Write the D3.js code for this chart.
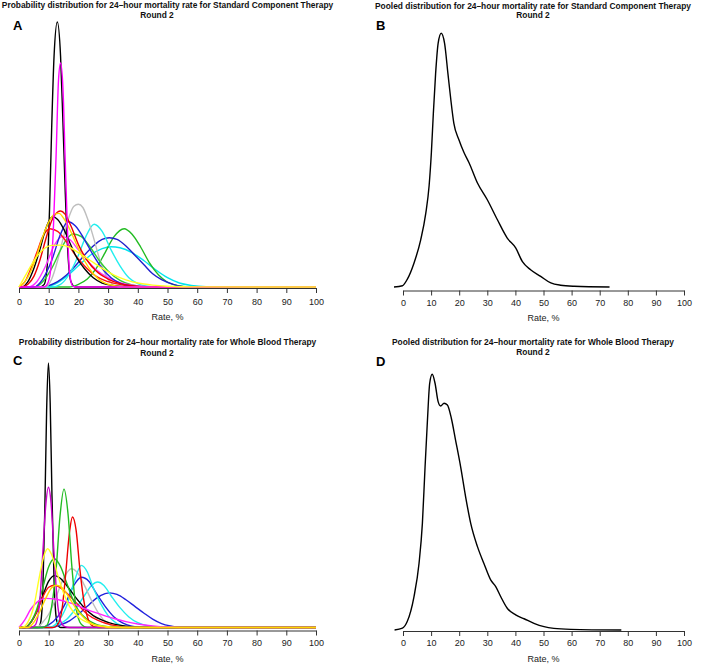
<!DOCTYPE html>
<html>
<head>
<meta charset="utf-8">
<script src="https://cdn.jsdelivr.net/npm/d3@7"></script>
<style>
  html, body { margin: 0; padding: 0; background: #fff; }
  svg { display: block; font-family: "Liberation Sans", Arial, Helvetica, sans-serif; }
</style>
</head>
<body>
<svg id="chart" width="709" height="664"></svg>
<script>
// ---------------- DATA (rate %, relative density) ----------------
const tickValues = [0, 10, 20, 30, 40, 50, 60, 70, 80, 90, 100];
const axisLabel = "Rate, %";
const panelLetters = ["A", "B", "C", "D"];
const titleLines = [
  ["Probability distribution for 24\u2013hour mortality rate for Standard Component Therapy", "Round 2"],
  ["Pooled distribution for 24\u2013hour mortality rate for Standard Component Therapy", "Round 2"],
  ["Probability distribution for 24\u2013hour mortality rate for Whole Blood Therapy", "Round 2"],
  ["Pooled distribution for 24\u2013hour mortality rate for Whole Blood Therapy", "Round 2"]
];

// Panel A: individual expert distributions, Standard Component Therapy
const scBlackNarrow = [[0,0],[7,0],[8.5,0.01],[9.5,0.08],[10.3,0.3],[11,0.6],[11.8,0.87],[12.9,1.0],[14,0.87],[14.8,0.62],[15.6,0.35],[16.5,0.12],[17.5,0.02],[19,0],[100,0]];
const scCyanBroad = [[0,0],[8,0],[12,0.01],[16,0.04],[20,0.08],[24,0.12],[28,0.145],[31,0.152],[34,0.148],[38,0.13],[42,0.1],[46,0.065],[50,0.035],[54,0.015],[58,0.006],[63,0.001],[68,0],[100,0]];
const scGreenRight = [[0,0],[17,0],[20,0.01],[23,0.03],[26,0.07],[29,0.13],[32,0.19],[35.4,0.22],[38,0.2],[41,0.15],[44,0.09],[47,0.045],[50,0.018],[54,0.004],[58,0],[100,0]];
const scBlueRight = [[0,0],[7,0],[10,0.005],[13,0.02],[16,0.045],[19,0.08],[22,0.12],[25,0.155],[28,0.18],[30.4,0.186],[33,0.18],[36,0.155],[39,0.12],[42,0.085],[45,0.05],[48,0.028],[52,0.01],[57,0],[100,0]];
const scCyanMid = [[0,0],[11,0],[14,0.01],[17,0.05],[20,0.12],[22.5,0.19],[25.3,0.237],[28,0.21],[31,0.14],[34,0.08],[37,0.035],[40,0.013],[44,0.002],[47,0],[100,0]];
const scGray = [[0,0],[9,0],[11,0.03],[13,0.1],[15,0.19],[17,0.27],[18.5,0.305],[20,0.312],[21.5,0.3],[23,0.26],[25,0.19],[27,0.11],[29,0.05],[31,0.015],[34,0],[100,0]];
const scGreenMid = [[0,0],[5,0],[8,0.02],[11,0.07],[14,0.14],[16,0.18],[18.3,0.2],[21,0.19],[24,0.15],[27,0.1],[30,0.06],[34,0.025],[38,0.008],[44,0],[100,0]];
const scMagentaBroad = [[0,0],[3,0],[6,0.02],[9,0.08],[12,0.16],[14.5,0.19],[17,0.18],[20,0.14],[23,0.1],[26,0.065],[30,0.035],[34,0.016],[40,0.004],[46,0],[100,0]];
const scRedLow = [[0,0],[2,0.02],[4,0.07],[6,0.13],[8,0.19],[10.4,0.22],[13,0.21],[16,0.17],[19,0.12],[22,0.08],[26,0.04],[30,0.02],[35,0.007],[42,0],[100,0]];
const scBlueMid = [[0,0],[5,0],[8,0.03],[11,0.1],[14,0.2],[16.5,0.246],[19,0.23],[22,0.18],[25,0.12],[28,0.07],[31,0.035],[34,0.015],[38,0.004],[42,0],[100,0]];
const scBlackBroad = [[0,0],[1,0],[3,0.02],[5,0.07],[7,0.14],[9,0.22],[11.3,0.265],[13,0.255],[15,0.22],[17,0.17],[19,0.12],[22,0.07],[25,0.035],[28,0.015],[32,0.005],[38,0],[100,0]];
const scRedHigh = [[0,0],[1,0],[3,0.01],[5,0.04],[7,0.1],[9,0.18],[11,0.25],[13,0.283],[14,0.287],[15.5,0.275],[17.5,0.23],[20,0.16],[23,0.1],[26,0.06],[30,0.03],[34,0.013],[38,0.005],[44,0],[100,0]];
const scYellowHigh = [[0,0],[2,0.02],[4,0.06],[6,0.12],[8,0.19],[10,0.245],[12,0.275],[13.5,0.278],[15,0.26],[17,0.22],[19,0.17],[22,0.1],[25,0.05],[28,0.02],[32,0.005],[36,0],[100,0]];
const scMagentaNarrow = [[0,0],[8.5,0],[9.5,0.01],[10.5,0.05],[11.5,0.2],[12.5,0.5],[13.3,0.78],[14,0.845],[14.8,0.75],[15.5,0.5],[16.3,0.22],[17,0.06],[18,0.005],[19,0],[100,0]];
const scYellowFlat = [[0,0],[2,0.04],[4,0.08],[6,0.115],[8,0.14],[11,0.157],[14,0.158],[17,0.15],[20,0.13],[24,0.1],[28,0.07],[32,0.045],[36,0.027],[40,0.015],[45,0.007],[50,0.003],[60,0.0005],[100,0]];
const scCurves = [scBlackNarrow, scCyanBroad, scGreenRight, scBlueRight, scCyanMid, scGray, scGreenMid, scMagentaBroad, scRedLow, scBlueMid, scBlackBroad, scRedHigh, scYellowHigh, scMagentaNarrow, scYellowFlat];
const scColors = ["#000000", "#00E5EE", "#22BB22", "#2020CC", "#22EEEE", "#BEBEBE", "#33CC33", "#FF33FF", "#FF1111", "#2222DD", "#000000", "#EE0000", "#FFD700", "#FF00FF", "#FFFF22"];

// Panel B: pooled, Standard Component Therapy
const scPooled = [[-3.2,0],[-0.2,0.005],[1.5,0.03],[3.9,0.094],[6.3,0.186],[8.1,0.29],[9.3,0.4],[10.1,0.53],[10.8,0.685],[11.6,0.84],[12.5,0.96],[13.6,1.0],[14.8,0.96],[16.0,0.84],[17.0,0.74],[18.1,0.645],[19.9,0.58],[21.7,0.53],[23.5,0.49],[26.5,0.41],[30.0,0.344],[33.6,0.265],[37.1,0.193],[40.1,0.154],[42.5,0.1],[45.4,0.068],[49.0,0.042],[52.6,0.016],[56.1,0.007],[60.9,0.003],[73.5,0]];

// Panel C: individual expert distributions, Whole Blood Therapy
const wbBlackNarrow = [[0,0],[6.5,0],[7.3,0.02],[8,0.13],[8.7,0.45],[9.3,0.82],[9.9,1.0],[10.5,0.85],[11.1,0.5],[11.8,0.18],[12.5,0.04],[13.3,0.005],[14,0],[100,0]];
const wbBlueRight = [[0,0],[11,0],[14,0.01],[17,0.025],[20,0.05],[23,0.08],[26,0.11],[29,0.128],[30.5,0.131],[33,0.125],[36,0.105],[39,0.08],[42,0.055],[45,0.032],[48,0.015],[51,0.006],[55,0],[100,0]];
const wbCyanRight = [[0,0],[10,0],[13,0.01],[16,0.03],[19,0.07],[22,0.12],[24.5,0.16],[26.5,0.172],[28.5,0.16],[31,0.12],[34,0.075],[37,0.04],[40,0.018],[44,0.005],[48,0],[100,0]];
const wbGray = [[0,0],[6,0],[8,0.02],[10,0.05],[12,0.1],[14,0.16],[16,0.205],[17.6,0.222],[19.5,0.21],[22,0.16],[24.5,0.1],[27,0.05],[29.5,0.018],[32,0.004],[35,0],[100,0]];
const wbBlueMid = [[0,0],[7,0],[10,0.01],[13,0.04],[16,0.1],[18.5,0.16],[21,0.19],[23.5,0.175],[26,0.13],[29,0.08],[32,0.04],[35,0.017],[38,0.005],[42,0],[100,0]];
const wbCyanMid = [[0,0],[10,0],[13,0.02],[16,0.08],[18.5,0.17],[21,0.235],[23,0.21],[25,0.15],[27.5,0.09],[30,0.045],[33,0.015],[36,0.003],[39,0],[100,0]];
const wbBlackBroad = [[0,0],[2,0],[4,0.02],[6,0.06],[8,0.12],[10,0.175],[12,0.196],[14,0.185],[16,0.16],[19,0.115],[22,0.075],[25,0.045],[28,0.028],[32,0.013],[36,0.005],[42,0],[100,0]];
const wbRedLow = [[0,0],[2,0],[4,0.02],[6,0.06],[8,0.115],[10,0.152],[12,0.16],[14,0.15],[17,0.12],[20,0.085],[23,0.05],[27,0.025],[32,0.008],[38,0],[100,0]];
const wbGreenLow = [[0,0],[2,0],[4,0.02],[6,0.07],[8,0.15],[10,0.23],[11.9,0.26],[14,0.23],[16,0.17],[18,0.11],[20,0.065],[23,0.03],[26,0.012],[30,0.003],[35,0],[100,0]];
const wbRedHigh = [[0,0],[11.5,0],[13,0.01],[14.5,0.07],[15.7,0.2],[17,0.36],[18,0.418],[19.2,0.37],[20.5,0.22],[22,0.09],[23.5,0.025],[25,0.004],[26.5,0],[100,0]];
const wbGreenHigh = [[0,0],[8,0],[9.5,0.01],[11,0.08],[12.5,0.22],[13.8,0.42],[15.15,0.523],[16.5,0.43],[17.8,0.23],[19,0.09],[20.5,0.02],[22,0.003],[23,0],[100,0]];
const wbMagentaNarrow = [[0,0],[4,0],[5.5,0.01],[7,0.1],[8,0.28],[9,0.46],[9.9,0.53],[10.8,0.47],[11.8,0.28],[12.8,0.11],[14,0.025],[15.5,0.003],[17,0],[100,0]];
const wbMagentaBroad = [[0,0],[2,0.03],[4,0.07],[6,0.095],[9,0.11],[12,0.108],[15,0.1],[18,0.09],[21,0.077],[24,0.063],[28,0.048],[32,0.034],[36,0.022],[40,0.013],[45,0.006],[50,0.002],[58,0],[100,0]];
const wbYellowHigh = [[0,0],[1,0],[3,0.02],[5,0.08],[7,0.2],[8.5,0.275],[9.65,0.298],[11,0.275],[13,0.2],[15,0.13],[17,0.08],[20,0.04],[24,0.015],[28,0.005],[35,0],[100,0]];
const wbYellowLow = [[0,0],[3,0],[5,0.02],[7,0.06],[9,0.11],[11,0.15],[12.7,0.16],[14.5,0.15],[16.5,0.12],[19,0.075],[22,0.035],[25,0.012],[29,0.002],[32,0],[100,0]];
const wbCurves = [wbBlackNarrow, wbBlueRight, wbCyanRight, wbGray, wbBlueMid, wbCyanMid, wbBlackBroad, wbRedLow, wbGreenLow, wbRedHigh, wbGreenHigh, wbMagentaNarrow, wbMagentaBroad, wbYellowHigh, wbYellowLow];
const wbColors = ["#000000", "#2222DD", "#22EEEE", "#BEBEBE", "#2222DD", "#22EEEE", "#000000", "#FF1111", "#22BB22", "#EE0000", "#22BB22", "#CC00CC", "#FF22FF", "#FFFF22", "#FFD700"];

// Panel D: pooled, Whole Blood Therapy
const wbPooled = [[-3.0,0],[-0.2,0.007],[1.5,0.033],[3.9,0.13],[5.7,0.26],[6.9,0.417],[7.8,0.626],[8.7,0.82],[9.5,0.965],[10.4,1.0],[11.4,0.965],[12.5,0.893],[13.4,0.876],[14.6,0.887],[15.8,0.88],[17.2,0.828],[18.7,0.743],[20.5,0.639],[22.3,0.52],[24.1,0.417],[26.5,0.326],[28.8,0.26],[31.2,0.196],[33.0,0.17],[34.8,0.13],[37.1,0.085],[40.1,0.059],[43.1,0.044],[46.6,0.026],[50.2,0.013],[53.7,0.0065],[59.7,0.0026],[77.7,0]];

// ---------------- LAYOUT ----------------
const panels = [
  { letter: panelLetters[0], title: titleLines[0], series: scCurves, colors: scColors,
    x0: 19, x1: 316, base: 287, top: 22, axisY: 288, labPad: 17, rateY: 320,
    t1: [167.5, 8], t2: [157, 18], let: [13, 30] },
  { letter: panelLetters[1], title: titleLines[1], series: [scPooled], colors: ["#000000"],
    x0: 403, x1: 684, base: 287, top: 33.3, axisY: 290.5, labPad: 15.5, rateY: 320.5,
    t1: [533, 8.5], t2: [533, 18], let: [376, 30] },
  { letter: panelLetters[2], title: titleLines[2], series: wbCurves, colors: wbColors,
    x0: 19, x1: 316, base: 627.5, top: 363, axisY: 630.5, labPad: 15.5, rateY: 662,
    t1: [167.5, 345], t2: [157, 355.5], let: [13, 365] },
  { letter: panelLetters[3], title: titleLines[3], series: [wbPooled], colors: ["#000000"],
    x0: 403, x1: 684, base: 630, top: 374.3, axisY: 631, labPad: 15.5, rateY: 662,
    t1: [533, 345], t2: [533, 355], let: [376, 366] }
];

const svg = d3.select("#chart");

panels.forEach(p => {
  const g = svg.append("g");
  const x = d3.scaleLinear().domain([0, 100]).range([p.x0, p.x1]);
  const y = d3.scaleLinear().domain([0, 1]).range([p.base, p.top]);

  const line = d3.line()
    .x(d => x(d[0]))
    .y(d => y(d[1]))
    .curve(d3.curveMonotoneX);

  g.selectAll("path.curve")
    .data(p.series)
    .join("path")
    .attr("class", "curve")
    .attr("d", d => line(d))
    .attr("fill", "none")
    .attr("stroke", (d, i) => p.colors[i])
    .attr("stroke-width", 1.4)
    .attr("stroke-linejoin", "round");

  // axis
  const axis = d3.axisBottom(x)
    .tickValues(tickValues)
    .tickSize(5)
    .tickSizeOuter(0)
    .tickPadding(p.labPad - 5 - 6.4);
  const ag = g.append("g")
    .attr("transform", `translate(0,${p.axisY})`)
    .call(axis);
  ag.select(".domain").attr("stroke", "#333").attr("stroke-width", 1);
  ag.selectAll(".tick line").attr("stroke", "#333");
  ag.selectAll(".tick text")
    .attr("font-size", 9)
    .attr("fill", "#222")
    .attr("font-family", "'Liberation Sans', Arial, Helvetica, sans-serif");

  g.append("text")
    .attr("x", (p.x0 + p.x1) / 2)
    .attr("y", p.rateY)
    .attr("text-anchor", "middle")
    .attr("font-size", 9)
    .attr("fill", "#222")
    .text(axisLabel);

  g.append("text")
    .attr("x", p.t1[0]).attr("y", p.t1[1])
    .attr("text-anchor", "middle")
    .attr("font-size", 8.4)
    .attr("font-weight", "bold")
    .attr("fill", "#111")
    .text(p.title[0]);
  g.append("text")
    .attr("x", p.t2[0]).attr("y", p.t2[1])
    .attr("text-anchor", "middle")
    .attr("font-size", 8.4)
    .attr("font-weight", "bold")
    .attr("fill", "#111")
    .text(p.title[1]);

  g.append("text")
    .attr("x", p.let[0]).attr("y", p.let[1])
    .attr("font-size", 13)
    .attr("font-weight", "bold")
    .attr("fill", "#000")
    .text(p.letter);
});
</script>
</body>
</html>
